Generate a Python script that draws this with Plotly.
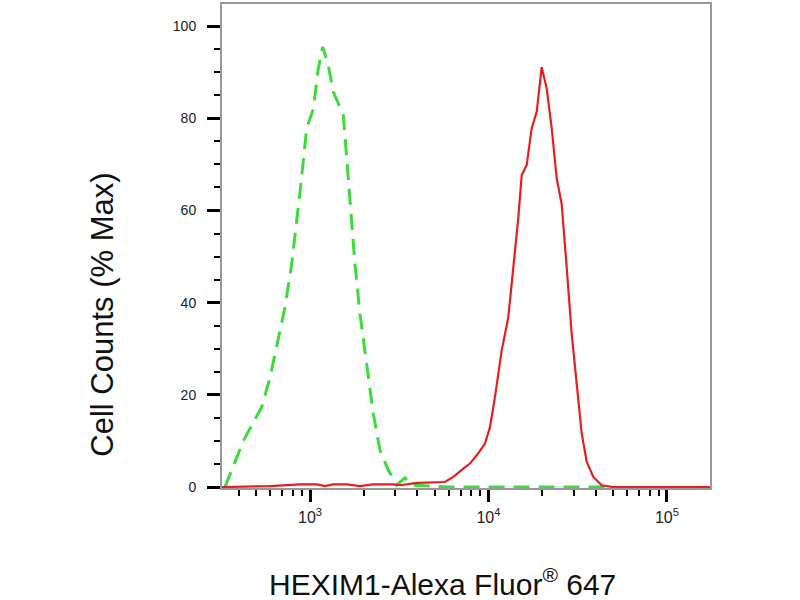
import plotly.graph_objects as go

# Isotype control (green dashed)
green_x = [334, 388, 423, 481, 536, 597, 664, 724, 789, 842, 879, 958, 1043, 1113, 1178,
           1266, 1351, 1537, 1606, 1713, 1787, 1906, 2078, 2262, 2466, 2747, 3059, 3405,
           3727, 6081, 11592, 22130, 45000]
green_y = [0, 6.5, 10, 14, 17.3, 23.8, 32.5, 39, 48.3, 57, 64, 77.8, 82, 90.8, 95.5,
           91.5, 85.7, 80.7, 71.3, 59, 48.3, 37.5, 26.7, 15.9, 8, 3.7, 0.4, 2,
           0.4, 0, 0, 0, 0]

# HEXIM1 sample (red solid)
red_x = [321, 597, 879, 1094, 1214, 1346, 1611, 1906, 2253, 2917, 3192, 3973, 5702, 6350,
         7224, 7876, 8590, 9556, 10190, 10870, 11850, 12910, 13770, 14690, 15350, 16370,
         17460, 18630, 19270, 19870, 21190, 22610, 24110, 25720, 27430, 29260, 31210,
         33290, 35510, 38650, 43060, 49990, 174000]
red_y = [0, 0.2, 0.6, 0.6, 0.2, 0.6, 0.6, 0.2, 0.6, 0.6, 0.4, 0.9, 1.1, 2.2,
         4, 5.1, 6.9, 9.4, 13, 19.5, 29.6, 36.8, 47.6, 58.4, 67.7, 69.9,
         77.8, 81.4, 86.5, 91.1, 86.5, 77.8, 67, 61.3, 47.6, 33.2, 22.4,
         11.6, 5.5, 2.2, 0.4, 0, 0]

x_major = [1e3, 1e4, 1e5]
x_major_text = ["10<sup>3</sup>", "10<sup>4</sup>", "10<sup>5</sup>"]
x_minor = [400, 500, 600, 700, 800, 900,
           2000, 3000, 4000, 5000, 6000, 7000, 8000, 9000,
           20000, 30000, 40000, 50000, 60000, 70000, 80000, 90000]
y_major = [0, 20, 40, 60, 80, 100]

x_title = "HEXIM1-Alexa Fluor<sup>®</sup> 647"
y_title = "Cell Counts (% Max)"

fig = go.Figure()
fig.add_trace(go.Scatter(x=green_x, y=green_y, mode="lines",
                         line=dict(color="rgb(60,220,60)", width=3, dash="16px,9px"),
                         showlegend=False))
fig.add_trace(go.Scatter(x=red_x, y=red_y, mode="lines",
                         line=dict(color="rgb(232,30,30)", width=2.2),
                         showlegend=False))

fam = "Liberation Sans, Arial, sans-serif"
ytickfont = dict(family=fam, size=14, color="#222")
xtickfont = dict(family=fam, size=16, color="#222")

fig.update_layout(
    width=800, height=600,
    margin=dict(l=222, r=90, t=2, b=112),
    paper_bgcolor="white", plot_bgcolor="white",
    xaxis=dict(type="log", range=[2.507, 5.241],
               tickmode="array", tickvals=x_major, ticktext=x_major_text,
               ticks="outside", ticklen=12, tickwidth=3, tickcolor="black",
               minor=dict(tickmode="array", tickvals=x_minor, ticks="outside",
                          ticklen=6, tickwidth=2, tickcolor="black", showgrid=False),
               showline=True, linecolor="#999", linewidth=2, mirror=True,
               showgrid=False, zeroline=False, tickfont=xtickfont,
               ticklabelstandoff=2),
    yaxis=dict(range=[-0.2, 104.8],
               tickmode="array", tickvals=y_major,
               ticks="outside", ticklen=13, tickwidth=3, tickcolor="black",
               minor=dict(dtick=5, tick0=0, ticks="outside",
                          ticklen=6, tickwidth=2, tickcolor="black", showgrid=False),
               showline=True, linecolor="#999", linewidth=2, mirror=True,
               showgrid=False, zeroline=False, tickfont=ytickfont,
               ticklabelstandoff=8),
    annotations=[
        dict(text=x_title, xref="paper", yref="paper", x=(442 - 222) / 488,
             y=-(582 - 488) / 486, xanchor="center", yanchor="middle",
             showarrow=False,
             font=dict(family=fam, size=30, color="#111")),
        dict(text=y_title, xref="paper", yref="paper", x=-(222 - 103) / 488,
             y=(488 - 314) / 486, xanchor="center", yanchor="middle", textangle=-90,
             showarrow=False,
             font=dict(family=fam, size=31, color="#111")),
    ],
)

fig.write_html("out.html", config={"displayModeBar": False},
               post_script="document.body.style.margin='0';document.body.style.padding='0';")
